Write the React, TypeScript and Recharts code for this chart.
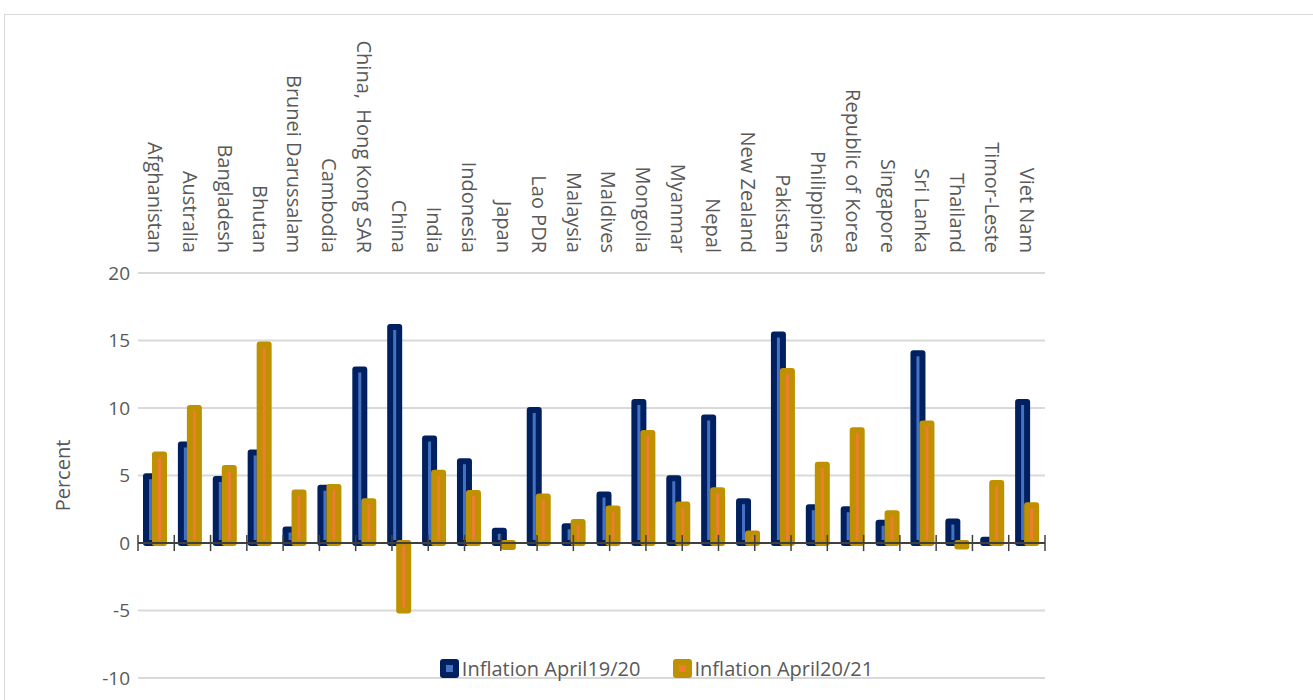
import React from 'react';
import {
  BarChart,
  Bar,
  XAxis,
  YAxis,
  CartesianGrid,
  Legend,
  ReferenceLine,
} from 'recharts';

const countries = [
  'Afghanistan', 'Australia', 'Bangladesh', 'Bhutan', 'Brunei Darussalam', 'Cambodia',
  'China,\u00a0 Hong Kong SAR', 'China', 'India', 'Indonesia', 'Japan', 'Lao PDR', 'Malaysia',
  'Maldives', 'Mongolia', 'Myanmar', 'Nepal', 'New Zealand', 'Pakistan', 'Philippines',
  'Republic of Korea', 'Singapore', 'Sri Lanka', 'Thailand', 'Timor-Leste', 'Viet Nam',
];

const inflation1920 = [
  4.95, 7.3, 4.75, 6.7, 1.0, 4.1, 12.85, 16.0, 7.75, 6.05, 0.9, 9.85, 1.25,
  3.6, 10.45, 4.8, 9.3, 3.1, 15.45, 2.65, 2.5, 1.5, 14.05, 1.6, 0.25, 10.45,
];

const inflation2021 = [
  6.55, 10.0, 5.55, 14.7, 3.75, 4.15, 3.1, -5.0, 5.2, 3.7, -0.3, 3.45, 1.55,
  2.55, 8.15, 2.85, 3.9, 0.7, 12.75, 5.8, 8.35, 2.2, 8.85, -0.25, 4.45, 2.8,
];

const yTicks = [-10, -5, 0, 5, 10, 15, 20];
const boundaries = Array.from({ length: countries.length + 1 }, (_, i) => i);

const NAVY = '#002060';
const LIGHT_BLUE = '#4472C4';
const GOLD = '#BF9000';
const ORANGE = '#ED7D31';
const TEXT = '#595959';
const FONT = '"Open Sans", sans-serif';

const data = countries.map((name, i) => ({
  name,
  a: inflation1920[i],
  b: inflation2021[i],
}));

const CountryTick = (props: any) => {
  const { x, y, payload } = props;
  return (
    <text
      x={x}
      y={y}
      transform={`rotate(90, ${x}, ${y})`}
      textAnchor="end"
      dominantBaseline="central"
      fill={TEXT}
      fontSize={20}
      fontFamily={FONT}
    >
      {payload.value}
    </text>
  );
};

const PercentLabel = (props: any) => {
  const { viewBox } = props;
  const x = viewBox.x + 4;
  const y = viewBox.y + viewBox.height / 2;
  return (
    <text
      x={x}
      y={y}
      transform={`rotate(-90, ${x}, ${y})`}
      textAnchor="middle"
      dominantBaseline="central"
      fill={TEXT}
      fontSize={20}
      fontFamily={FONT}
    >
      Percent
    </text>
  );
};

const LegendBox = ({ border, fill }: { border: string; fill: string }) => (
  <span
    style={{
      display: 'inline-block',
      width: 7,
      height: 7,
      background: fill,
      border: `6px solid ${border}`,
      borderRadius: 3,
      marginRight: 3,
    }}
  />
);

const renderLegend = () => (
  <div
    style={{
      display: 'flex',
      justifyContent: 'center',
      alignItems: 'center',
      gap: 32,
      fontFamily: FONT,
      fontSize: 20,
      color: TEXT,
    }}
  >
    <span style={{ display: 'flex', alignItems: 'center' }}>
      <LegendBox border={NAVY} fill={LIGHT_BLUE} />
      Inflation April19/20
    </span>
    <span style={{ display: 'flex', alignItems: 'center' }}>
      <LegendBox border={GOLD} fill={ORANGE} />
      Inflation April20/21
    </span>
  </div>
);

export default function App() {
  return (
    <div style={{ position: 'fixed', left: 0, top: 0, width: 1313, height: 700, background: '#fff' }}>
      <div
        style={{
          position: 'absolute',
          left: 4,
          top: 14,
          width: 1309,
          height: 686,
          borderLeft: '1.5px solid #d9d9d9',
          borderTop: '1.5px solid #d9d9d9',
          boxSizing: 'border-box',
        }}
      />
      <div style={{ position: 'absolute', left: 0, top: 0 }}>
        <BarChart
          width={1313}
          height={700}
          data={data}
          margin={{ top: 10, right: 268, bottom: 22, left: 58 }}
          barGap={0}
          barSize={9}
          style={{ fontFamily: FONT }}
        >
          <CartesianGrid vertical={false} stroke="#d9d9d9" strokeWidth={2} />
          <XAxis
            dataKey="name"
            orientation="top"
            height={263}
            interval={0}
            axisLine={false}
            tickLine={false}
            tickSize={0}
            tickMargin={20}
            tick={<CountryTick />}
          />
          <XAxis xAxisId="num" type="number" domain={[0, countries.length]} hide />
          <YAxis
            domain={[-10, 20]}
            ticks={yTicks}
            width={80}
            axisLine={false}
            tickLine={false}
            tick={{ fill: TEXT, fontSize: 19, fontFamily: FONT }}
            label={<PercentLabel />}
          />
          <Legend
            verticalAlign="middle"
            wrapperStyle={{ top: 655, left: 0, width: 1313 }}
            content={renderLegend}
          />
          <Bar
            dataKey="a"
            name="Inflation April19/20"
            fill={LIGHT_BLUE}
            stroke={NAVY}
            strokeWidth={6}
            strokeLinejoin="round"
            isAnimationActive={false}
          />
          <Bar
            dataKey="b"
            name="Inflation April20/21"
            fill={ORANGE}
            stroke={GOLD}
            strokeWidth={6}
            strokeLinejoin="round"
            isAnimationActive={false}
          />
          <ReferenceLine y={0} stroke="#404040" strokeWidth={2} />
          {boundaries.map((b) => (
            <ReferenceLine
              key={b}
              xAxisId="num"
              segment={[{ x: b, y: -0.6 }, { x: b, y: 0.6 }]}
              stroke="#404040"
              strokeWidth={1.5}
            />
          ))}
        </BarChart>
      </div>
    </div>
  );
}
